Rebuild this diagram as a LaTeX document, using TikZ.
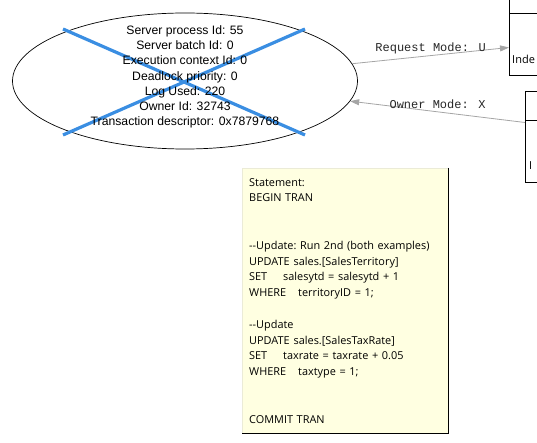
\documentclass[tikz,border=0pt]{standalone}
\usepackage{fontspec}
\setmainfont{Liberation Sans}
\newfontfamily\notefont{Open Sans}
\newfontfamily\modefont{Liberation Mono}
\usetikzlibrary{arrows.meta, shapes.geometric, positioning}
\definecolor{notefill}{RGB}{255,255,225}
\definecolor{noteedge}{RGB}{235,235,215}
\definecolor{crossblue}{RGB}{58,142,226}
\definecolor{edgegray}{RGB}{165,165,165}

\begin{document}
\begin{tikzpicture}[x=1pt, y=-1pt,
        proc/.style={ellipse, draw=black, line width=0.7pt, minimum width=345pt, minimum height=136pt, inner sep=0pt},
        info/.style={align=center, font=\fontsize{12.2}{15.2}\selectfont, inner sep=0pt},
        res/.style={rectangle, draw=black, line width=1pt, anchor=north west, inner sep=0pt},
        restxt/.style={font=\notefont\fontsize{11}{13}\selectfont, anchor=west, inner sep=0pt},
        note/.style={rectangle, fill=notefill, draw=noteedge, anchor=north west, text width=192pt, align=left,
                     inner xsep=7pt, inner ysep=10pt, font=\notefont\frenchspacing\fontsize{10.9}{15.8}\selectfont},
        cross/.style={draw=crossblue, line width=3.2pt},
        mode/.style={-{Triangle[length=9pt,width=6pt]}, draw=edgegray, line width=0.8pt},
        modelbl/.style={font=\modefont\fontsize{12}{12}\selectfont, text=black!85, inner sep=0pt}
    ]
    \useasboundingbox (0,0) rectangle (537,443);
    \clip (0,0) rectangle (537,443);
    % Processo vitima
    \node[proc] (proc) at (185,81) {};
    \draw[cross] (63,29) -- (305,135);
    \draw[cross] (63,135) -- (305,29);
    \node[info] (info) at (185,77) {Server process Id: 55\\ Server batch Id: 0\\ Execution context Id: 0\\
        Deadlock priority: 0\\ Log Used: 220\\ Owner Id: 32743\\ Transaction descriptor: 0x7879768};
    % Recursos
    \node[res, minimum width=60pt, minimum height=100pt] (box1) at (509,-25) {};
    \draw[line width=1pt] (box1.west |- 0,14) -- (box1.east |- 0,14);
    \node[restxt] (idx1) at (512,59) {Inde};
    \node[res, minimum width=45pt, minimum height=91pt] (box2) at (525,91) {};
    \draw[line width=1pt] (box2.west |- 0,121) -- (box2.east |- 0,121);
    \node[restxt] (idx2) at (529,166) {I};
    % Instrucao
    \node[note, minimum width=206pt] (stmt) at (242,168) {Statement:\\ BEGIN TRAN\\ \mbox{}\\ \mbox{}\\
        -{}-Update: Run 2nd (both examples)\\
        UPDATE\hspace{4pt}sales.[SalesTerritory]\\
        \makebox[34pt][l]{SET}salesytd = salesytd + 1\\
        \makebox[49pt][l]{WHERE}territoryID = 1;\\ \mbox{}\\
        -{}-Update\\
        UPDATE\hspace{4pt}sales.[SalesTaxRate]\\
        \makebox[34pt][l]{SET}taxrate = taxrate + 0.05\\
        \makebox[49pt][l]{WHERE}taxtype = 1;\\ \mbox{}\\ \mbox{}\\
        COMMIT TRAN};
    \draw[line width=1.2pt] (stmt.north east) -- (stmt.south east) -- (stmt.south west);
    % Arestas
    \draw[mode] (proc) -- ([yshift=-22pt]box1.west) node[modelbl, midway, yshift=7.5pt] {Request Mode: U};
    \draw[mode] ([yshift=14.5pt]box2.west) -- (proc) node[modelbl, midway, yshift=8pt] {Owner Mode: X};
\end{tikzpicture}
\end{document}
